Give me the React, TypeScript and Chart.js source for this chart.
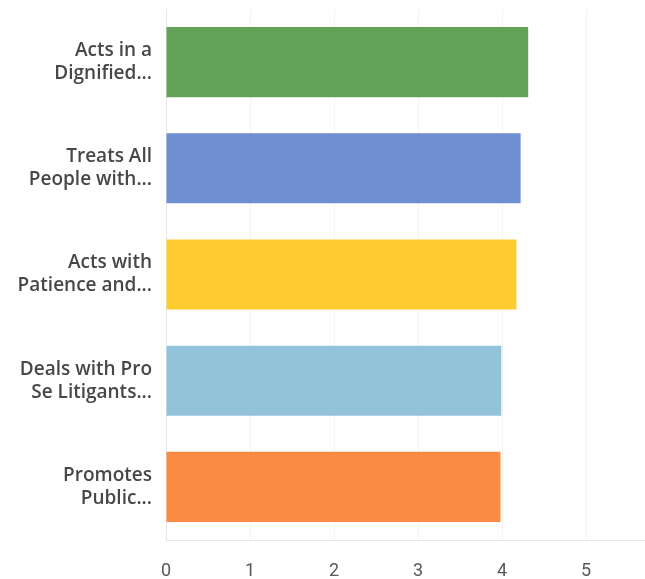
import React, { useEffect, useRef } from "react";
import { Chart, registerables } from "chart.js";

Chart.register(...registerables);

const categories: string[][] = [
  ["Acts in a", "Dignified..."],
  ["Treats All", "People with..."],
  ["Acts with", "Patience and..."],
  ["Deals with Pro", "Se Litigants..."],
  ["Promotes", "Public..."],
];
const values: number[] = [4.31, 4.22, 4.17, 3.99, 3.98];
const barColors: string[] = ["#62a257", "#6f8fd0", "#fecb30", "#92c3da", "#fb8a42"];
const xTicks: number[] = [0, 1, 2, 3, 4, 5];

export default function App() {
  const ref = useRef<HTMLCanvasElement | null>(null);
  useEffect(() => {
    if (!ref.current) return;
    const chart = new Chart(ref.current, {
      type: "bar",
      data: {
        labels: categories,
        datasets: [
          {
            data: values,
            backgroundColor: barColors,
            borderWidth: 0,
            categoryPercentage: 0.66,
            barPercentage: 1,
          },
        ],
      },
      options: {
        indexAxis: "y",
        animation: false,
        responsive: false,
        maintainAspectRatio: false,
        layout: { padding: { top: 9, right: 0, bottom: 0, left: 0 } },
        plugins: { legend: { display: false }, tooltip: { enabled: false } },
        scales: {
          x: {
            min: 0,
            max: 5.7,
            afterBuildTicks: (axis: any) => {
              axis.ticks = xTicks.map((v) => ({ value: v }));
            },
            afterFit: (axis: any) => {
              axis.height = 39;
              axis.paddingLeft = 0;
              axis.paddingRight = 0;
            },
            grid: { color: "#f4f4f4", drawTicks: false },
            border: { color: "#e6e6e6" },
            ticks: {
              padding: 21,
              color: "#585858",
              font: { family: "Roboto", size: 18 },
            },
          },
          y: {
            grid: { display: false, drawTicks: false },
            border: { color: "#e6e6e6" },
            afterFit: (axis: any) => {
              axis.width = 166;
              axis.paddingTop = 0;
              axis.paddingBottom = 0;
            },
            ticks: {
              padding: 14,
              color: "#474747",
              font: { family: "Open Sans", size: 19, weight: "600", lineHeight: 1.22 },
            },
          },
        },
      },
    } as any);
    return () => chart.destroy();
  }, []);
  return (
    <div style={{ position: "fixed", left: 0, top: 0, width: 645, height: 579, background: "#fff" }}>
      <canvas ref={ref} width={645} height={579} style={{ width: 645, height: 579 }} />
    </div>
  );
}
